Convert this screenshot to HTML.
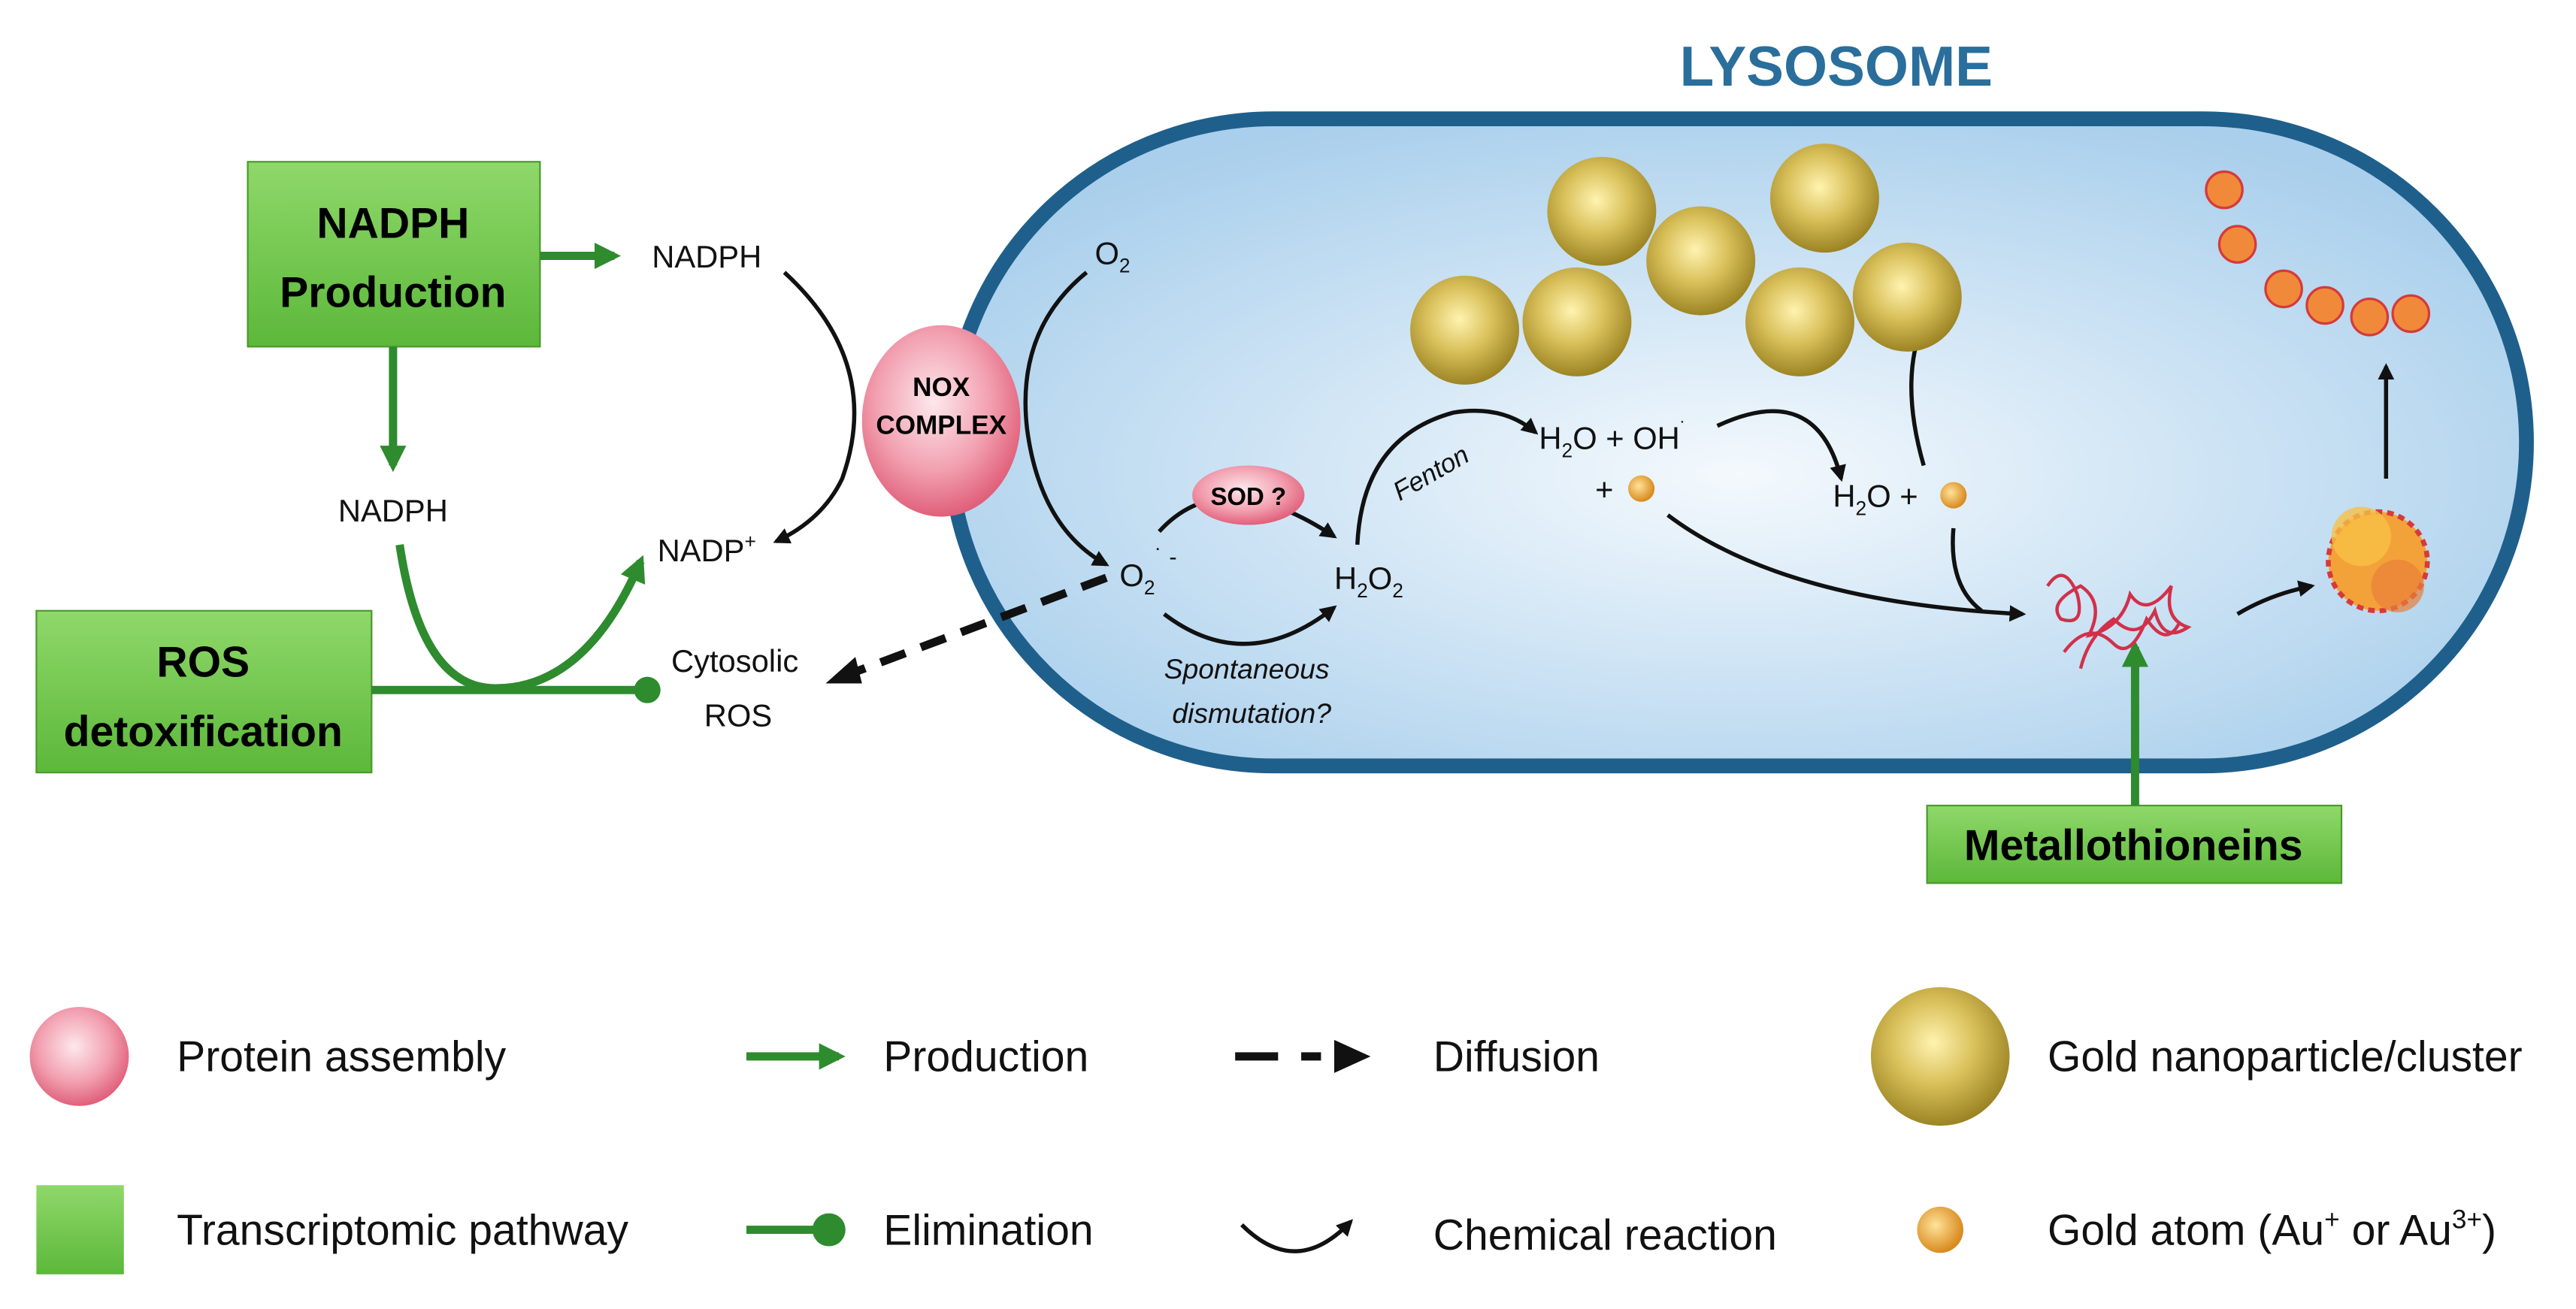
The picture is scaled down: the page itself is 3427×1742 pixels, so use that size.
<!DOCTYPE html>
<html><head><meta charset="utf-8"><style>
html,body{margin:0;padding:0;background:#fff;}
svg{display:block;}
text{font-family:"Liberation Sans",sans-serif;}
</style></head><body>
<svg width="3427" height="1742" viewBox="0 0 1560 793" xmlns="http://www.w3.org/2000/svg">
<defs>
<linearGradient id="gb" x1="0" y1="0" x2="0" y2="1"><stop offset="0" stop-color="#8fd86a"/><stop offset="1" stop-color="#5cb83a"/></linearGradient>
<radialGradient id="lys" cx="0.5" cy="0.55" r="0.6"><stop offset="0" stop-color="#f4f9fd"/><stop offset="1" stop-color="#a9cfec"/></radialGradient>
<radialGradient id="pink" cx="0.45" cy="0.4" r="0.6"><stop offset="0" stop-color="#fde8ec"/><stop offset="0.6" stop-color="#f2a0b0"/><stop offset="1" stop-color="#e0607a"/></radialGradient>
<radialGradient id="gold" cx="0.45" cy="0.4" r="0.6"><stop offset="0" stop-color="#fff3b0"/><stop offset="0.5" stop-color="#d9c05a"/><stop offset="1" stop-color="#9c8424"/></radialGradient>
<radialGradient id="atom" cx="0.4" cy="0.4" r="0.6"><stop offset="0" stop-color="#ffe39a"/><stop offset="1" stop-color="#d98a1e"/></radialGradient>
<marker id="ab" markerWidth="10" markerHeight="10" refX="8" refY="5" orient="auto" markerUnits="userSpaceOnUse"><path d="M0,0 L10,5 L0,10 z" fill="#111"/></marker>
<marker id="ag" markerWidth="16" markerHeight="16" refX="12" refY="8" orient="auto" markerUnits="userSpaceOnUse"><path d="M0,0 L16,8 L0,16 z" fill="#2e8b2e"/></marker>
<marker id="abig" markerWidth="18" markerHeight="16" refX="14" refY="8" orient="auto" markerUnits="userSpaceOnUse"><path d="M0,0 L18,8 L0,16 z" fill="#111"/></marker>
</defs>

<text x="1112" y="52" font-size="34" font-weight="bold" fill="#2a6e9c" text-anchor="middle">LYSOSOME</text>
<rect x="575" y="72" width="955" height="392" rx="196" fill="url(#lys)" stroke="#1f5f8c" stroke-width="9"/>

<!-- green boxes -->
<rect x="150" y="98" width="177" height="112" fill="url(#gb)" stroke="#4a9a2c"/>
<text x="238" y="144" font-size="26" font-weight="bold" text-anchor="middle">NADPH</text>
<text x="238" y="186" font-size="26" font-weight="bold" text-anchor="middle">Production</text>
<rect x="22" y="370" width="203" height="98" fill="url(#gb)" stroke="#4a9a2c"/>
<text x="123" y="410" font-size="26" font-weight="bold" text-anchor="middle">ROS</text>
<text x="123" y="452" font-size="26" font-weight="bold" text-anchor="middle">detoxification</text>
<rect x="1167" y="488" width="251" height="47" fill="url(#gb)" stroke="#4a9a2c"/>
<text x="1292" y="521" font-size="26" font-weight="bold" text-anchor="middle">Metallothioneins</text>

<!-- green arrows -->
<g stroke="#2e8b2e" stroke-width="5" fill="none">
<line x1="327" y1="155" x2="372" y2="155" marker-end="url(#ag)"/>
<line x1="238" y1="210" x2="238" y2="282" marker-end="url(#ag)"/>
<path d="M242,330 Q255,417 300,417 Q355,417 388,340" marker-end="url(#ag)"/>
<line x1="225" y1="418" x2="390" y2="418"/>
<line x1="1293" y1="488" x2="1293" y2="392" marker-end="url(#ag)"/>
</g>
<circle cx="392" cy="418" r="8" fill="#2e8b2e"/>

<g font-size="19" fill="#111">
<text x="428" y="162" text-anchor="middle">NADPH</text>
<text x="238" y="316" text-anchor="middle">NADPH</text>
<text x="428" y="340" text-anchor="middle">NADP<tspan font-size="12" dy="-8">+</tspan></text>
<text x="445" y="407" text-anchor="middle">Cytosolic</text>
<text x="447" y="440" text-anchor="middle">ROS</text>
</g>

<!-- black arcs -->
<g stroke="#111" stroke-width="2.5" fill="none">
<path d="M475,165 Q535,220 510,290 Q498,315 470,328" marker-end="url(#ab)"/>
<path d="M658,165 Q615,200 622,260 Q630,320 670,342" marker-end="url(#ab)"/>
<path d="M702,322 Q740,280 808,325" marker-end="url(#ab)"/>
<path d="M705,372 Q755,410 808,368" marker-end="url(#ab)"/>
<path d="M822,330 Q825,265 880,250 Q910,245 930,262" marker-end="url(#ab)"/>
<path d="M1040,258 Q1100,230 1115,290" marker-end="url(#ab)"/>
<path d="M1165,282 Q1150,230 1165,195" marker-end="url(#ab)"/>
<path d="M1010,312 Q1080,365 1225,372" marker-end="url(#ab)"/>
<path d="M1183,320 Q1180,355 1200,370"/>
<path d="M1355,372 Q1375,360 1400,355" marker-end="url(#ab)"/>
<line x1="1445" y1="290" x2="1445" y2="222" marker-end="url(#ab)"/>
</g>
<line x1="670" y1="350" x2="510" y2="410" stroke="#111" stroke-width="5" stroke-dasharray="16,10"/>
<path d="M500,414 L518,398 L522,414 z" fill="#111"/>

<!-- NOX -->
<ellipse cx="570" cy="255" rx="48" ry="58" fill="url(#pink)"/>
<text x="570" y="240" font-size="16" font-weight="bold" text-anchor="middle">NOX</text>
<text x="570" y="263" font-size="16" font-weight="bold" text-anchor="middle">COMPLEX</text>
<ellipse cx="756" cy="300" rx="34" ry="18" fill="url(#pink)"/>
<text x="756" y="306" font-size="15" font-weight="bold" text-anchor="middle">SOD ?</text>

<g font-size="19" fill="#111">
<text x="663" y="160">O<tspan font-size="12" dy="5">2</tspan></text>
<text x="678" y="355">O<tspan font-size="12" dy="5">2</tspan><tspan font-size="14" dy="-18">˙ -</tspan></text>
<text x="808" y="357">H<tspan font-size="12" dy="5">2</tspan><tspan dy="-5">O</tspan><tspan font-size="12" dy="5">2</tspan></text>
<text x="932" y="272">H<tspan font-size="12" dy="5">2</tspan><tspan dy="-5">O + OH</tspan><tspan font-size="12" dy="-8">˙</tspan></text>
<text x="966" y="303">+</text>
<text x="1110" y="307">H<tspan font-size="12" dy="5">2</tspan><tspan dy="-5">O +</tspan></text>
<text x="840" y="295" font-size="16" font-style="italic" transform="rotate(-30 860 285)">Fenton</text>
<text x="755" y="411" font-size="17" font-style="italic" text-anchor="middle">Spontaneous</text>
<text x="758" y="438" font-size="17" font-style="italic" text-anchor="middle">dismutation?</text>
</g>
<circle cx="994" cy="296" r="8" fill="url(#atom)"/>
<circle cx="1183" cy="300" r="8" fill="url(#atom)"/>

<!-- gold spheres -->
<g fill="url(#gold)">
<circle cx="970" cy="128" r="33"/><circle cx="1105" cy="120" r="33"/><circle cx="1030" cy="158" r="33"/>
<circle cx="887" cy="200" r="33"/><circle cx="955" cy="195" r="33"/><circle cx="1090" cy="195" r="33"/><circle cx="1155" cy="180" r="33"/>
</g>

<!-- proteins -->
<g stroke="#d2304a" stroke-width="2" fill="none">
<path d="M1240,355 q10,-15 18,5 q5,20 -10,15 q-8,-10 12,-20 q15,10 5,30 q20,-5 25,-25 q10,15 25,-5 q-5,20 10,25 q-15,10 -20,-10 q-10,20 -25,5 q-15,10 -20,30"/>
<path d="M1250,395 q15,-20 30,-5 q10,10 20,-15 q12,18 20,2"/>
</g>
<g>
<circle cx="1440" cy="340" r="30" fill="#f3a23a" stroke="#d63a3a" stroke-width="3" stroke-dasharray="4,3"/>
<circle cx="1430" cy="325" r="18" fill="#f7c045" opacity="0.8"/>
<circle cx="1452" cy="355" r="16" fill="#e8803a" opacity="0.7"/>
</g>
<g fill="#f08a3a" stroke="#d63a3a" stroke-width="1.5">
<circle cx="1347" cy="115" r="11"/><circle cx="1355" cy="148" r="11"/><circle cx="1383" cy="175" r="11"/>
<circle cx="1408" cy="185" r="11"/><circle cx="1435" cy="192" r="11"/><circle cx="1460" cy="190" r="11"/>
</g>

<!-- legend -->
<circle cx="48" cy="640" r="30" fill="url(#pink)"/>
<rect x="22" y="718" width="53" height="54" fill="url(#gb)"/>
<g stroke="#2e8b2e" stroke-width="5">
<line x1="452" y1="640" x2="508" y2="640" marker-end="url(#ag)"/>
<line x1="452" y1="745" x2="500" y2="745"/>
</g>
<circle cx="502" cy="745" r="10" fill="#2e8b2e"/>
<line x1="748" y1="640" x2="800" y2="640" stroke="#111" stroke-width="5" stroke-dasharray="26,14"/>
<path d="M808,630 L830,640 L808,650 z" fill="#111"/>
<path d="M752,742 Q785,775 818,740" stroke="#111" stroke-width="2.5" fill="none" marker-end="url(#ab)"/>
<circle cx="1175" cy="640" r="42" fill="url(#gold)"/>
<circle cx="1175" cy="745" r="14" fill="url(#atom)"/>
<g font-size="26" fill="#111">
<text x="107" y="649">Protein assembly</text>
<text x="107" y="754">Transcriptomic pathway</text>
<text x="535" y="649">Production</text>
<text x="535" y="754">Elimination</text>
<text x="868" y="649">Diffusion</text>
<text x="868" y="757">Chemical reaction</text>
<text x="1240" y="649">Gold nanoparticle/cluster</text>
<text x="1240" y="754">Gold atom (Au<tspan font-size="16" dy="-10">+</tspan><tspan dy="10"> or Au</tspan><tspan font-size="16" dy="-10">3+</tspan><tspan dy="10">)</tspan></text>
</g>
</svg>
</body></html>
